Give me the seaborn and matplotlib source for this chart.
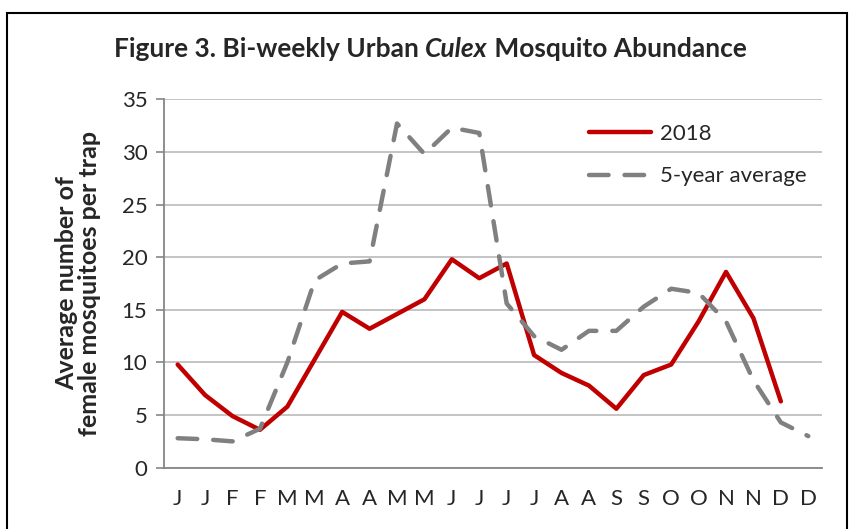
import numpy as np
import pandas as pd
import matplotlib
matplotlib.use("Agg")
import matplotlib.pyplot as plt
from matplotlib.patches import Rectangle
import seaborn as sns

# bi-weekly periods, labelled by month initial
periods = ['J', 'J', 'F', 'F', 'M', 'M', 'A', 'A', 'M', 'M', 'J', 'J',
           'J', 'J', 'A', 'A', 'S', 'S', 'O', 'O', 'N', 'N', 'D', 'D']
# average number of female mosquitoes per trap
abund_2018 = [9.8, 6.9, 4.9, 3.6, 5.8, 10.3, 14.8, 13.2, 14.6, 16.0, 19.8, 18.0,
              19.4, 10.7, 9.0, 7.8, 5.6, 8.8, 9.8, 13.9, 18.6, 14.2, 6.3, np.nan]
avg_5yr = [2.8, 2.7, 2.5, 3.7, 10.0, 17.8, 19.4, 19.6, 32.7, 29.8, 32.3, 31.8,
           15.6, 12.5, 11.2, 13.0, 13.0, 15.3, 17.0, 16.6, 13.9, 8.3, 4.3, 3.0]

sns.set_style("white")
plt.rcParams['font.family'] = ['Lato', 'DejaVu Sans']

df = pd.DataFrame({
    'period': np.arange(len(periods)),
    '2018': abund_2018,
    '5-year average': avg_5yr,
})

fig = plt.figure(figsize=(8.54, 5.29), dpi=100)
ax = fig.add_axes([0.192, 0.1159, 0.7705, 0.6964])

sns.lineplot(data=df, x='period', y='2018', ax=ax, color='#C00000',
             linewidth=3.2, label='2018')
sns.lineplot(data=df, x='period', y='5-year average', ax=ax, color='#808080',
             linewidth=3.2, label='5-year average')
gray_line = ax.get_lines()[1]
gray_line.set_dashes([4.4, 3.6])
gray_line.set_dash_capstyle('round')

ax.set_xlim(-0.5, len(periods) - 0.5)
ax.set_ylim(0, 35)
ax.set_yticks(range(0, 36, 5))
ax.yaxis.grid(True, color='#BFBFBF', linewidth=1.3)
ax.set_axisbelow(True)

# labels at period centres, tick marks at boundaries
ax.set_xticks(np.arange(len(periods)))
ax.set_xticklabels(periods)
ax.set_xticks(np.arange(-0.5, len(periods)), minor=True)
ax.tick_params(axis='x', which='major', length=0, pad=15, labelsize=16)
ax.tick_params(axis='x', which='minor', length=6, width=1.2, color='#868686',
               direction='out')
ax.tick_params(axis='y', which='major', length=6, width=1.2, color='#868686',
               direction='out', labelsize=16, pad=6)
ax.tick_params(bottom=True, left=True)

for side in ['top', 'right']:
    ax.spines[side].set_visible(False)
for side in ['left', 'bottom']:
    ax.spines[side].set_color('#868686')
    ax.spines[side].set_linewidth(1.3)

ax.set_xlabel('')
ax.set_ylabel('Average number of\nfemale mosquitoes per trap', fontsize=18,
              fontweight='bold', labelpad=15, linespacing=1.0,
              multialignment='center')

leg = ax.legend(loc='upper right', bbox_to_anchor=(1.0, 0.975), frameon=False,
                fontsize=16, handlelength=2.8, handletextpad=0.4,
                labelspacing=1.0, borderaxespad=0.3)
leg.get_lines()[1].set_dashes([4.4, 3.6])
leg.get_lines()[1].set_dash_capstyle('round')

# title with italic genus name
renderer = fig.canvas.get_renderer()
parts = [('Figure 3. Bi-weekly Urban ', 'normal'), ('Culex', 'italic'),
         (' Mosquito Abundance', 'normal')]
texts = []
for s, style in parts:
    t = fig.text(0, 0.907, s, fontsize=19, fontweight='bold', style=style,
                 ha='left', va='center')
    texts.append(t)
widths = [t.get_window_extent(renderer).width for t in texts]
x = (0.504 * fig.bbox.width) - sum(widths) / 2
for t, w in zip(texts, widths):
    t.set_x(x / fig.bbox.width)
    x += w

# outer border of the chart
fig.patches.append(Rectangle((7 / 854, -0.02), 840 / 854, 1 - 13 / 529 + 0.02,
                             transform=fig.transFigure, fill=False,
                             edgecolor='black', linewidth=1.5))

fig.savefig('out.png', dpi=100)
